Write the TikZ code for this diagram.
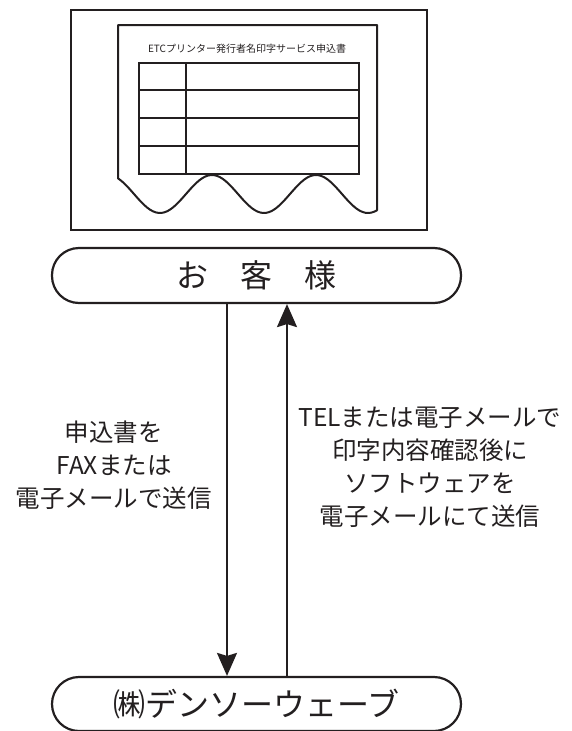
\documentclass[tikz,border=0pt]{standalone}
\usepackage{fontspec}
\setmainfont{Noto Sans CJK JP}
\usepackage{tikz}
\usetikzlibrary{arrows.meta, positioning, calc}
\usepackage{xcolor}
\definecolor{inkblack}{RGB}{35, 31, 32}

\begin{document}
\begin{tikzpicture}[x=1pt, y=-1pt, every node/.style={text=inkblack},
  pill/.style={draw=inkblack, line width=2.2pt, rounded corners=27pt,
    minimum width=409pt, minimum height=55pt, inner sep=0pt,
    font=\fontsize{32}{36}\selectfont},
  flow/.style={-{Stealth[length=23pt, width=20pt, inset=3pt]}, inkblack, line width=2pt},
  memo/.style={align=center, font=\fontsize{24.5}{33}\selectfont}]
\useasboundingbox (0,0) rectangle (572,731);

% ── Form sheet in its frame ─────────────────────────────────────
\draw[inkblack, line width=2pt] (71,10) rectangle (427,230);
\draw[inkblack, line width=2pt, line join=round]
plot[domain=118:377, samples=90] (\x, {194-19*cos(3.4615*(\x-108))})
-- (377,25) -- (118,25) -- cycle;
\node[font=\fontsize{10}{12}\selectfont] (title) at (247,49)
{ETCプリンター発行者名印字サービス申込書};

% ── Table on the sheet ──────────────────────────────────────────
\draw[inkblack, line width=2.5pt] (139,63) rectangle (359,174);
\foreach \y in {90,118,146}
\draw[inkblack, line width=2.5pt] (139,\y) -- (359,\y);
\draw[inkblack, line width=2.5pt] (186,63) -- (186,174);

% ── Customer and supplier ───────────────────────────────────────
\node[pill] (kyaku) at (256.5,275.5) {お　客　様};
\node[pill, minimum height=54pt] (denso) at (256.5,704) {㈱デンソーウェーブ};

% ── Arrow 1: order ──────────────────────────────────────────────
\draw[flow] ([xshift=-29.5pt]kyaku.south) -- ([xshift=-29.5pt]denso.north);
\node[memo] (irai) at (114,465) {申込書を\\FAXまたは\\電子メールで送信};

% ── Arrow 2: delivery ───────────────────────────────────────────
\draw[flow] ([xshift=30.5pt]denso.north) -- ([xshift=30.5pt]kyaku.south);
\node[memo] (henshin) at (430,467)
{TELまたは電子メールで\\印字内容確認後に\\ソフトウェアを\\電子メールにて送信};

\end{tikzpicture}
\end{document}
